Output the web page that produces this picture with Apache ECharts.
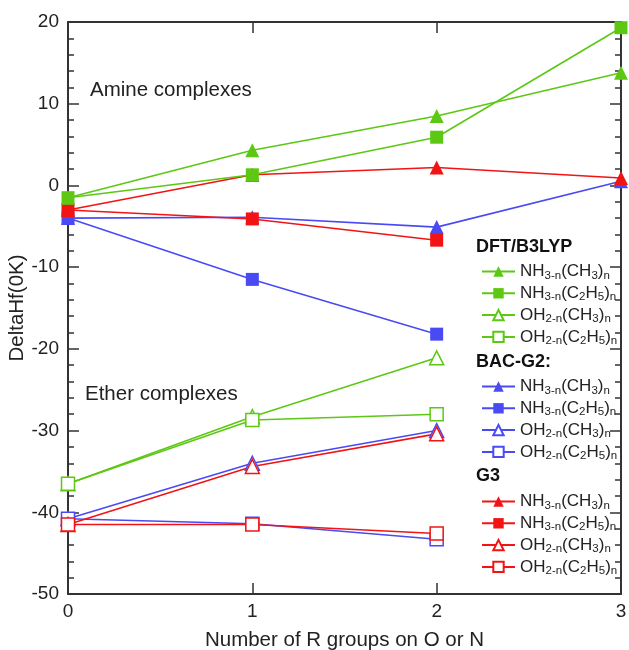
<!DOCTYPE html>
<html>
<head>
<meta charset="utf-8">
<script src="https://cdn.jsdelivr.net/npm/echarts@6/dist/echarts.min.js"></script>
<style>
html, body { margin: 0; padding: 0; background: #fff; }
#chart { width: 629px; height: 650px; }
</style>
</head>
<body>
<div id="chart"></div>
<script>
"use strict"

// x positions (number of R groups)
var xVals = [0, 1, 2, 3];

// DFT/B3LYP (green)
var dftNH3CH3 = [-1.5, 4.3, 8.5, 13.8];
var dftNH3C2H5 = [-1.5, 1.3, 5.9, 19.3];
var dftOH2CH3 = [-36.5, -28.3, -21.1];
var dftOH2C2H5 = [-36.5, -28.7, -28.0];

// BAC-G2 (blue)
var bacNH3CH3 = [-4.0, -3.9, -5.1, 0.5];
var bacNH3C2H5 = [-4.0, -11.5, -18.2];
var bacOH2CH3 = [-40.8, -34.0, -30.0];
var bacOH2C2H5 = [-40.8, -41.4, -43.3];

// G3 (red)
var g3NH3CH3 = [-3.0, 1.3, 2.2, 0.9];
var g3NH3C2H5 = [-3.0, -4.1, -6.7];
var g3OH2CH3 = [-41.5, -34.4, -30.4];
var g3OH2C2H5 = [-41.5, -41.5, -42.6];

var yTicks = [-50, -40, -30, -20, -10, 0, 10, 20];

var GREEN = '#5cc814';
var BLUE = '#4a4af5';
var RED = '#f21414';
var FONT = 'Liberation Sans, Arial, sans-serif';

var labelRich = {
    NH3CH3: '{m|NH}{s|3-n}{m|(CH}{s|3}{m|)}{s|n}',
    NH3C2H5: '{m|NH}{s|3-n}{m|(C}{s|2}{m|H}{s|5}{m|)}{s|n}',
    OH2CH3: '{m|OH}{s|2-n}{m|(CH}{s|3}{m|)}{s|n}',
    OH2C2H5: '{m|OH}{s|2-n}{m|(C}{s|2}{m|H}{s|5}{m|)}{s|n}'
};

function pairs(vals){
    var out = [];
    for(let i = 0; i < vals.length; i++){
        out.push([xVals[i], vals[i]]);
    }
    return out;
}

function makeSeries(name, vals, color, symbol, filled){
    return {
        name: name,
        type: 'line',
        data: pairs(vals),
        symbol: symbol,
        symbolSize: symbol === 'triangle' ? 14 : 13,
        showAllSymbol: true,
        lineStyle: { color: color, width: 1.6 },
        itemStyle: {
            color: filled ? color : '#ffffff',
            borderColor: color,
            borderWidth: filled ? 0 : 1.5
        },
        emphasis: { disabled: true },
        animation: false
    };
}

var seriesList = [
    makeSeries('bac_NH3CH3', bacNH3CH3, BLUE, 'triangle', true),
    makeSeries('bac_NH3C2H5', bacNH3C2H5, BLUE, 'rect', true),
    makeSeries('bac_OH2CH3', bacOH2CH3, BLUE, 'triangle', false),
    makeSeries('bac_OH2C2H5', bacOH2C2H5, BLUE, 'rect', false),
    makeSeries('g3_NH3CH3', g3NH3CH3, RED, 'triangle', true),
    makeSeries('g3_NH3C2H5', g3NH3C2H5, RED, 'rect', true),
    makeSeries('g3_OH2CH3', g3OH2CH3, RED, 'triangle', false),
    makeSeries('g3_OH2C2H5', g3OH2C2H5, RED, 'rect', false),
    makeSeries('dft_NH3CH3', dftNH3CH3, GREEN, 'triangle', true),
    makeSeries('dft_NH3C2H5', dftNH3C2H5, GREEN, 'rect', true),
    makeSeries('dft_OH2CH3', dftOH2CH3, GREEN, 'triangle', false),
    makeSeries('dft_OH2C2H5', dftOH2C2H5, GREEN, 'rect', false)
];

var keys = ['NH3CH3', 'NH3C2H5', 'OH2CH3', 'OH2C2H5'];

function makeLegend(prefix, top){
    return {
        orient: 'vertical',
        left: 476,
        top: top,
        itemWidth: 33,
        itemHeight: 13,
        itemGap: 3.3,
        selectedMode: false,
        data: keys.map(function(k){ return prefix + '_' + k; }),
        formatter: function(name){
            return labelRich[name.split('_')[1]];
        },
        textStyle: {
            rich: {
                m: { fontSize: 17, fontFamily: FONT, color: '#222', lineHeight: 20, verticalAlign: 'middle' },
                s: { fontSize: 11.5, fontFamily: FONT, color: '#222', lineHeight: 11, verticalAlign: 'bottom' }
            }
        }
    };
}

function header(text, y){
    return {
        type: 'text',
        left: 476,
        top: y - 10,
        style: { text: text, fontSize: 18, fontWeight: 'bold', fontFamily: FONT, fill: '#111' }
    };
}

function note(text, x, y){
    return {
        type: 'text',
        left: x,
        top: y - 12,
        style: { text: text, fontSize: 20.5, fontFamily: FONT, fill: '#222' }
    };
}

var lineOn = { show: true, onZero: false, lineStyle: { color: '#333', width: 2 } };
var lineOff = { show: false, onZero: false };
var bigTick = { show: true, inside: true, length: 11, lineStyle: { color: '#333', width: 1.5 } };
var smallTick = { show: true, inside: true, length: 6, lineStyle: { color: '#333', width: 1.5 } };

function yAxisDef(pos, interval, tick, line, labels){
    return {
        type: 'value', min: -50, max: 20, interval: interval, position: pos,
        axisLine: line,
        axisTick: tick,
        axisLabel: labels ? {
            fontSize: 19, fontFamily: FONT, color: '#222', margin: 9,
            formatter: function(v){ return yTicks.indexOf(v) >= 0 ? String(v) : ''; }
        } : { show: false },
        splitLine: { show: false }
    };
}

var yMain = yAxisDef('left', 10, bigTick, lineOn, true);
yMain.name = 'DeltaHf(0K)';
yMain.nameLocation = 'middle';
yMain.nameGap = 40;
yMain.nameMoveOverlap = false;
yMain.nameTextStyle = { fontSize: 20.5, fontFamily: FONT, color: '#222' };

var chart = echarts.init(document.getElementById('chart'));
var option = {
    backgroundColor: '#ffffff',
    animation: false,
    grid: { left: 68, right: 8, top: 22, bottom: 56, containLabel: false, outerBoundsMode: 'none' },
    xAxis: [
        {
            type: 'value', min: 0, max: 3, interval: 1,
            name: 'Number of R groups on O or N',
            nameLocation: 'middle', nameGap: 36,
            nameMoveOverlap: false,
            nameTextStyle: { fontSize: 20.5, fontFamily: FONT, color: '#222' },
            axisLine: lineOn,
            axisTick: bigTick,
            axisLabel: { fontSize: 19, fontFamily: FONT, color: '#222', margin: 8 },
            splitLine: { show: false }
        },
        {
            type: 'value', min: 0, max: 3, interval: 1, position: 'top',
            axisLine: lineOn,
            axisTick: bigTick,
            axisLabel: { show: false },
            splitLine: { show: false }
        }
    ],
    yAxis: [
        yMain,
        yAxisDef('left', 2, smallTick, lineOff, false),
        yAxisDef('right', 10, bigTick, lineOn, false),
        yAxisDef('right', 2, smallTick, lineOff, false)
    ],
    legend: [
        makeLegend('dft', 258),
        makeLegend('bac', 373),
        makeLegend('g3', 488)
    ],
    graphic: [
        header('DFT/B3LYP', 248),
        header('BAC-G2:', 363),
        header('G3', 477),
        note('Amine complexes', 90, 92),
        note('Ether complexes', 85, 396)
    ],
    series: seriesList
};
chart.setOption(option);
</script>
</body>
</html>
